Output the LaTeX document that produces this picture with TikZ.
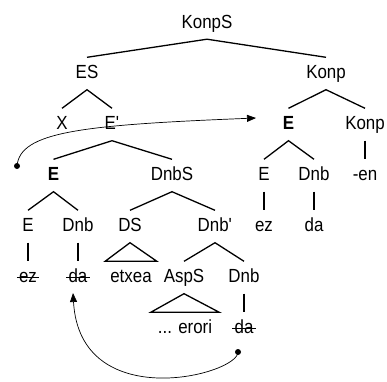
\documentclass[tikz,border=0pt]{standalone}
\usepackage{fontspec}
\setmainfont[FakeStretch=0.89]{Liberation Sans}
\usetikzlibrary{arrows.meta}

\begin{document}
\begin{tikzpicture}[x=1pt,y=-1pt,
  lbl/.style={font=\fontsize{19}{22}\selectfont, anchor=base, text height=10pt, text depth=0pt, inner xsep=2pt, inner ysep=11pt},
  edge/.style={line width=1.3pt},
  strike/.style={line width=1pt},
  trace/.style={line width=0.7pt, -{Triangle[length=9pt,width=7pt]}}]
\useasboundingbox (0,0) rectangle (387,381);
\node[lbl] (konps) at (207,28) {KonpS};
\node[lbl] (es) at (87,78.5) {ES};
\node[lbl] (konp1) at (326,78.5) {Konp};
\node[lbl] (x) at (62,129.5) {X};
\node[lbl] (ebar) at (112,129.5) {E\textquotesingle};
\node[lbl] (eR) at (288.5,129.5) {\textbf{E}};
\node[lbl] (konp2) at (365,129.5) {Konp};
\node[lbl] (eL) at (53.5,180.5) {\textbf{E}};
\node[lbl] (dnbs) at (172,180.5) {DnbS};
\node[lbl] (eR2) at (264,180.5) {E};
\node[lbl] (dnbR) at (314,180.5) {Dnb};
\node[lbl] (en) at (365,180.5) {-en};
\node[lbl] (ezR) at (264,231.5) {ez};
\node[lbl] (daR) at (314,231.5) {da};
\node[lbl] (eL2) at (28,231.5) {E};
\node[lbl] (dnbL) at (78,231.5) {Dnb};
\node[lbl] (ds) at (130,231.5) {DS};
\node[lbl] (dnbbar) at (215,231.5) {Dnb\textquotesingle};
\node[lbl] (ezL) at (28,282.5) {ez};
\node[lbl] (daL) at (78,282.5) {da};
\node[lbl] (etxea) at (131,282.5) {etxea};
\node[lbl] (asps) at (184,282.5) {AspS};
\node[lbl] (dnb3) at (244,282.5) {Dnb};
\node[lbl] (erori) at (185,333.5) {... erori};
\node[lbl] (da3) at (244,333.5) {da};
\coordinate (t1) at (17,166);
\coordinate (t1end) at (256,118);
\coordinate (t2) at (238,352);
\coordinate (t2end) at (73,293);
\draw[edge] (es.north) -- (konps.south) -- (konp1.north);
\draw[edge] (x.north) -- (es.south) -- (ebar.north);
\draw[edge] (eR.north) -- (konp1.south) -- (konp2.north);
\draw[edge] (eL.north) -- (ebar.south) -- (dnbs.north);
\draw[edge] (eR2.north) -- (eR.south) -- (dnbR.north);
\draw[edge] (konp2.south) -- (en.north);
\draw[edge] (eR2.south) -- (ezR.north);
\draw[edge] (dnbR.south) -- (daR.north);
\draw[edge] (eL2.north) -- (eL.south) -- (dnbL.north);
\draw[edge] (ds.north) -- (dnbs.south) -- (dnbbar.north);
\draw[edge] (eL2.south) -- (ezL.north);
\draw[edge] (dnbL.south) -- (daL.north);
\draw[edge] (ds.south) -- ([xshift=-3pt]etxea.north west) -- ([xshift=3pt]etxea.north east) -- cycle;
\draw[edge] (asps.north) -- (dnbbar.south) -- (dnb3.north);
\draw[edge] (asps.south) -- ([xshift=-5pt]erori.north west) -- ([xshift=5pt]erori.north east) -- cycle;
\draw[edge] (dnb3.south) -- (da3.north);
\draw[strike] (ezL.west) -- (ezL.east);
\draw[strike] (daL.west) -- (daL.east);
\draw[strike] (da3.west) -- (da3.east);
\fill (t1) circle (3pt);
\draw[trace] (t1) .. controls (20,132) and (80,125) .. (t1end);
\fill (t2) circle (3pt);
\draw[trace] (t2) .. controls (238,375) and (80,415) .. (t2end);
\end{tikzpicture}
\end{document}
